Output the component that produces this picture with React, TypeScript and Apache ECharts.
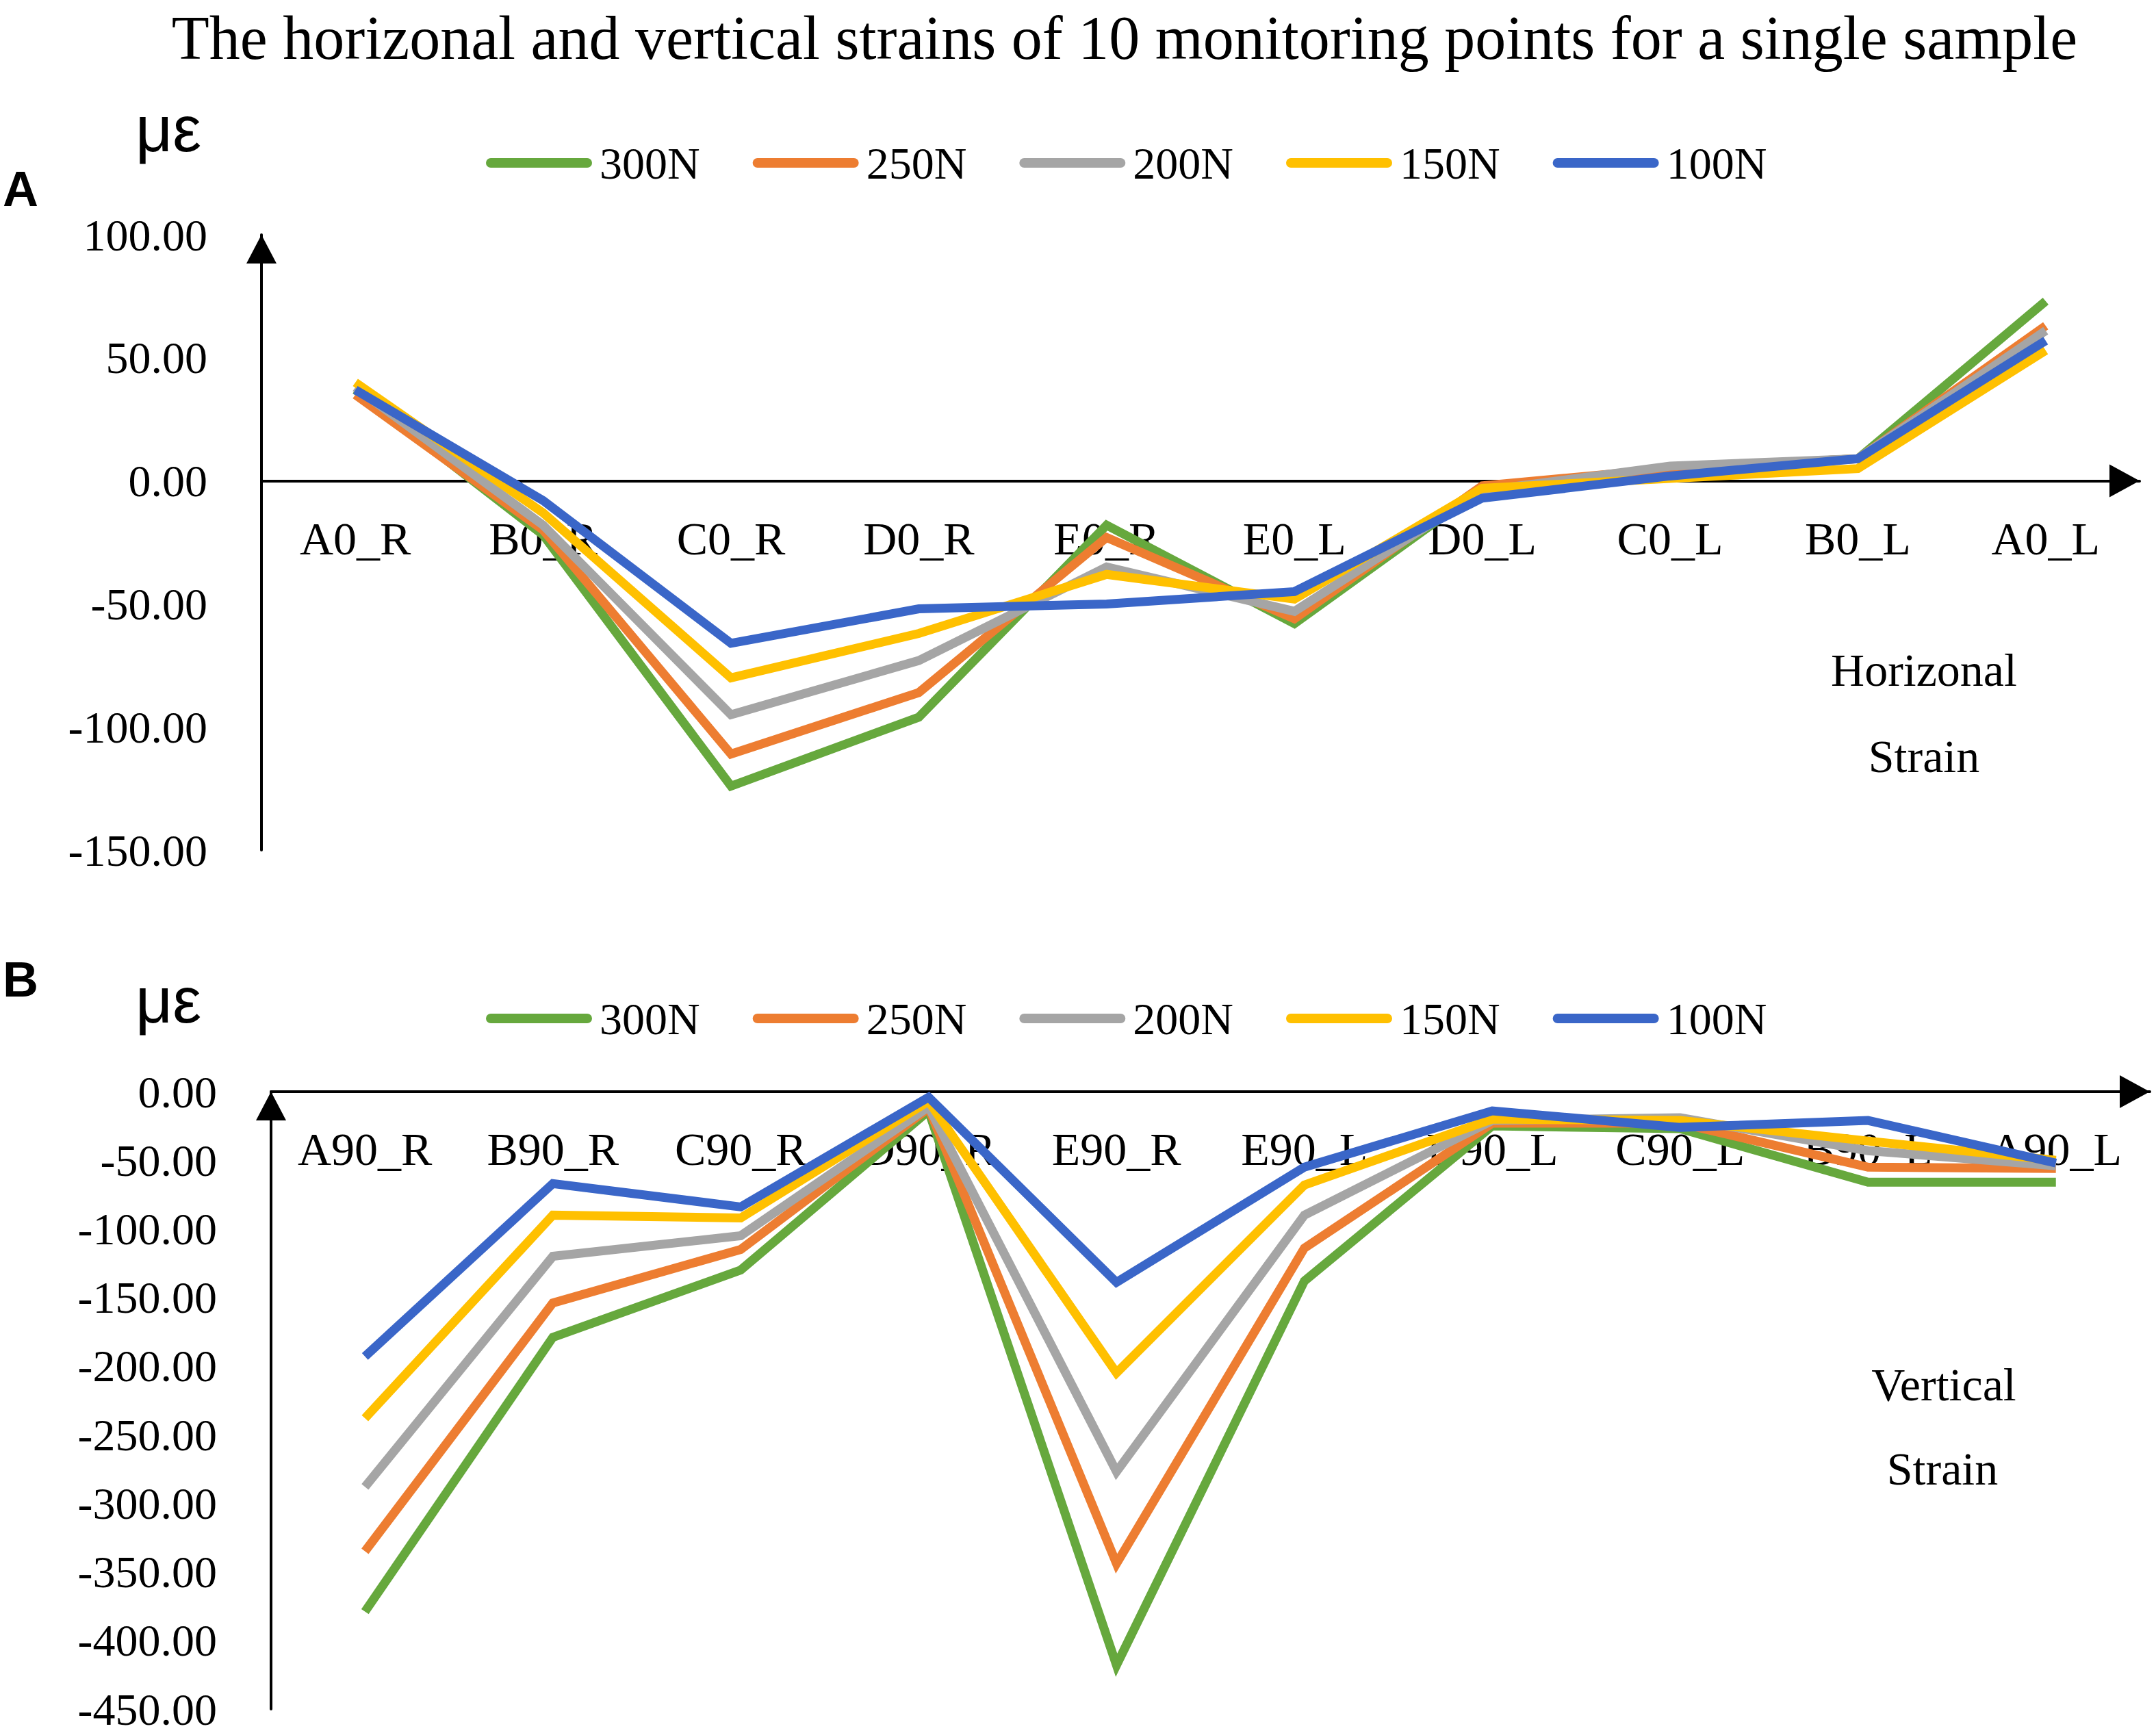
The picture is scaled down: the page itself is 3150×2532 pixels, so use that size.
import React, { useEffect, useRef } from "react";
import * as echarts from "echarts";

const titleText =
  "The horizonal and vertical strains of 10 monitoring points for a single sample";
const unitLabel = "με";
const panelLetters = ["A", "B"];
const hNote = ["Horizonal", "Strain"];
const vNote = ["Vertical", "Strain"];

const seriesNames = ["300N", "250N", "200N", "150N", "100N"];
const seriesColors = ["#66A83D", "#ED7D31", "#A5A5A5", "#FFC000", "#3A66C8"];

const hCategories = ["A0_R", "B0_R", "C0_R", "D0_R", "E0_R", "E0_L", "D0_L", "C0_L", "B0_L", "A0_L"];
const vCategories = ["A90_R", "B90_R", "C90_R", "D90_R", "E90_R", "E90_L", "D90_L", "C90_L", "B90_L", "A90_L"];

// Horizontal strain (με)
const h300 = [37, -22, -124, -96, -18, -58, -3, 5, 9, 73];
const h250 = [35, -20, -111, -86, -23, -56, -2, 5, 9, 63];
const h200 = [38, -18, -95, -73, -35, -53, -4, 6, 9, 61];
const h150 = [40, -13, -80, -62, -38, -48, -3, 1, 5, 53];
const h100 = [37, -8, -66, -52, -50, -45, -7, 2, 9, 57];

// Vertical strain (με)
const v300 = [-379, -179, -130, -14, -418, -138, -25, -27, -66, -66];
const v250 = [-335, -154, -115, -12, -344, -114, -23, -23, -55, -56];
const v200 = [-288, -120, -105, -11, -277, -90, -21, -19, -43, -54];
const v150 = [-238, -90, -92, -7, -205, -68, -20, -21, -36, -50];
const v100 = [-193, -67, -84, -4, -139, -55, -14, -26, -21, -52];

const hRange = [-150, 100];
const vRange = [-450, 0];
const tickStep = 50;

const hData = [h300, h250, h200, h150, h100];
const vData = [v300, v250, v200, v150, v100];

const SERIF = "'Liberation Serif', 'Times New Roman', serif";
const SANS = "'Liberation Sans', Arial, sans-serif";

const grids = [
  { left: 382, top: 343, width: 2744, height: 899 },
  { left: 396, top: 1595, width: 2745, height: 902 },
];

function zeroOffset(g: { height: number }, range: number[]) {
  // distance from the grid bottom up to the value 0 (negative offset moves the axis up)
  return -(g.height * (0 - range[0])) / (range[1] - range[0]);
}

function buildOption() {
  const axisLineStyle = { color: "#000", width: 4 };
  const xAxisCommon = (gridIndex: number, cats: string[], range: number[]) => ({
    type: "category",
    gridIndex,
    position: "bottom",
    offset: zeroOffset(grids[gridIndex], range),
    data: cats,
    boundaryGap: true,
    axisLine: {
      show: true,
      onZero: false,
      lineStyle: axisLineStyle,
      symbol: ["none", "triangle"],
      symbolSize: [48, 44],
      symbolOffset: [0, -22],
    },
    axisTick: { show: false },
    splitLine: { show: false },
    axisLabel: {
      interval: 0,
      margin: 50,
      color: "#000",
      fontSize: 68,
      fontFamily: SERIF,
    },
  });
  const yAxisCommon = (gridIndex: number, range: number[]) => ({
    type: "value",
    gridIndex,
    min: range[0],
    max: range[1],
    interval: tickStep,
    axisLine: {
      show: true,
      onZero: false,
      lineStyle: axisLineStyle,
      symbol: ["none", "triangle"],
      symbolSize: [44, 42],
      symbolOffset: [0, -21],
    },
    axisTick: { show: false },
    splitLine: { show: false },
    axisLabel: {
      margin: 79,
      color: "#000",
      fontSize: 66,
      lineHeight: 56,
      fontFamily: SERIF,
      formatter: (v: number) => v.toFixed(2),
    },
  });
  const legendCommon = (top: number) => ({
    top,
    left: 710,
    orient: "horizontal",
    padding: 0,
    itemWidth: 155,
    itemHeight: 14,
    itemGap: 77,
    icon: "path://M7,0 L148,0 A7,7 0 0 1 148,14 L7,14 A7,7 0 0 1 7,0 Z",
    data: seriesNames,
    textStyle: {
      color: "#000",
      fontSize: 66,
      lineHeight: 66,
      fontFamily: SERIF,
      padding: [0, 0, 0, 6],
    },
  });

  const series: any[] = [];
  [hData, vData].forEach((set, gi) => {
    seriesNames.forEach((name, i) => {
      series.push({
        name,
        type: "line",
        xAxisIndex: gi,
        yAxisIndex: gi,
        data: set[i],
        symbol: "none",
        showSymbol: false,
        color: seriesColors[i],
        lineStyle: { width: 13, color: seriesColors[i], join: "miter" },
        z: 2 + i,
      });
    });
  });

  const txt = (text: string, x: number, y: number, size: number, opts: any = {}) => ({
    type: "text",
    x,
    y,
    style: {
      text,
      fill: "#000",
      fontSize: size,
      lineHeight: opts.lineHeight || size,
      fontFamily: opts.family || SERIF,
      fontWeight: opts.weight || "normal",
      align: opts.align || "center",
      verticalAlign: "middle",
    },
  });

  return {
    animation: false,
    backgroundColor: "#fff",
    grid: grids,
    xAxis: [xAxisCommon(0, hCategories, hRange), xAxisCommon(1, vCategories, vRange)],
    yAxis: [yAxisCommon(0, hRange), yAxisCommon(1, vRange)],
    legend: [legendCommon(205), legendCommon(1455)],
    series,
    graphic: [
      txt(titleText, 1643, 55, 90),
      txt(unitLabel, 198, 188, 94, { family: SANS, align: "left" }),
      txt(unitLabel, 198, 1461, 94, { family: SANS, align: "left" }),
      txt(panelLetters[0], 4, 276, 72, { family: SANS, align: "left", weight: "bold" }),
      txt(panelLetters[1], 4, 1431, 72, { family: SANS, align: "left", weight: "bold" }),
      txt(hNote[0], 2811, 979, 68),
      txt(hNote[1], 2811, 1105, 68),
      txt(vNote[0], 2840, 2023, 68),
      txt(vNote[1], 2838, 2146, 68),
    ],
  };
}

export default function App() {
  const ref = useRef<HTMLDivElement>(null);
  useEffect(() => {
    if (!ref.current) return;
    const chart = echarts.init(ref.current, undefined, { renderer: "svg" });
    chart.setOption(buildOption() as any);
    return () => chart.dispose();
  }, []);
  return (
    <div
      ref={ref}
      style={{ position: "fixed", left: 0, top: 0, width: 3150, height: 2532, background: "#fff" }}
    />
  );
}
